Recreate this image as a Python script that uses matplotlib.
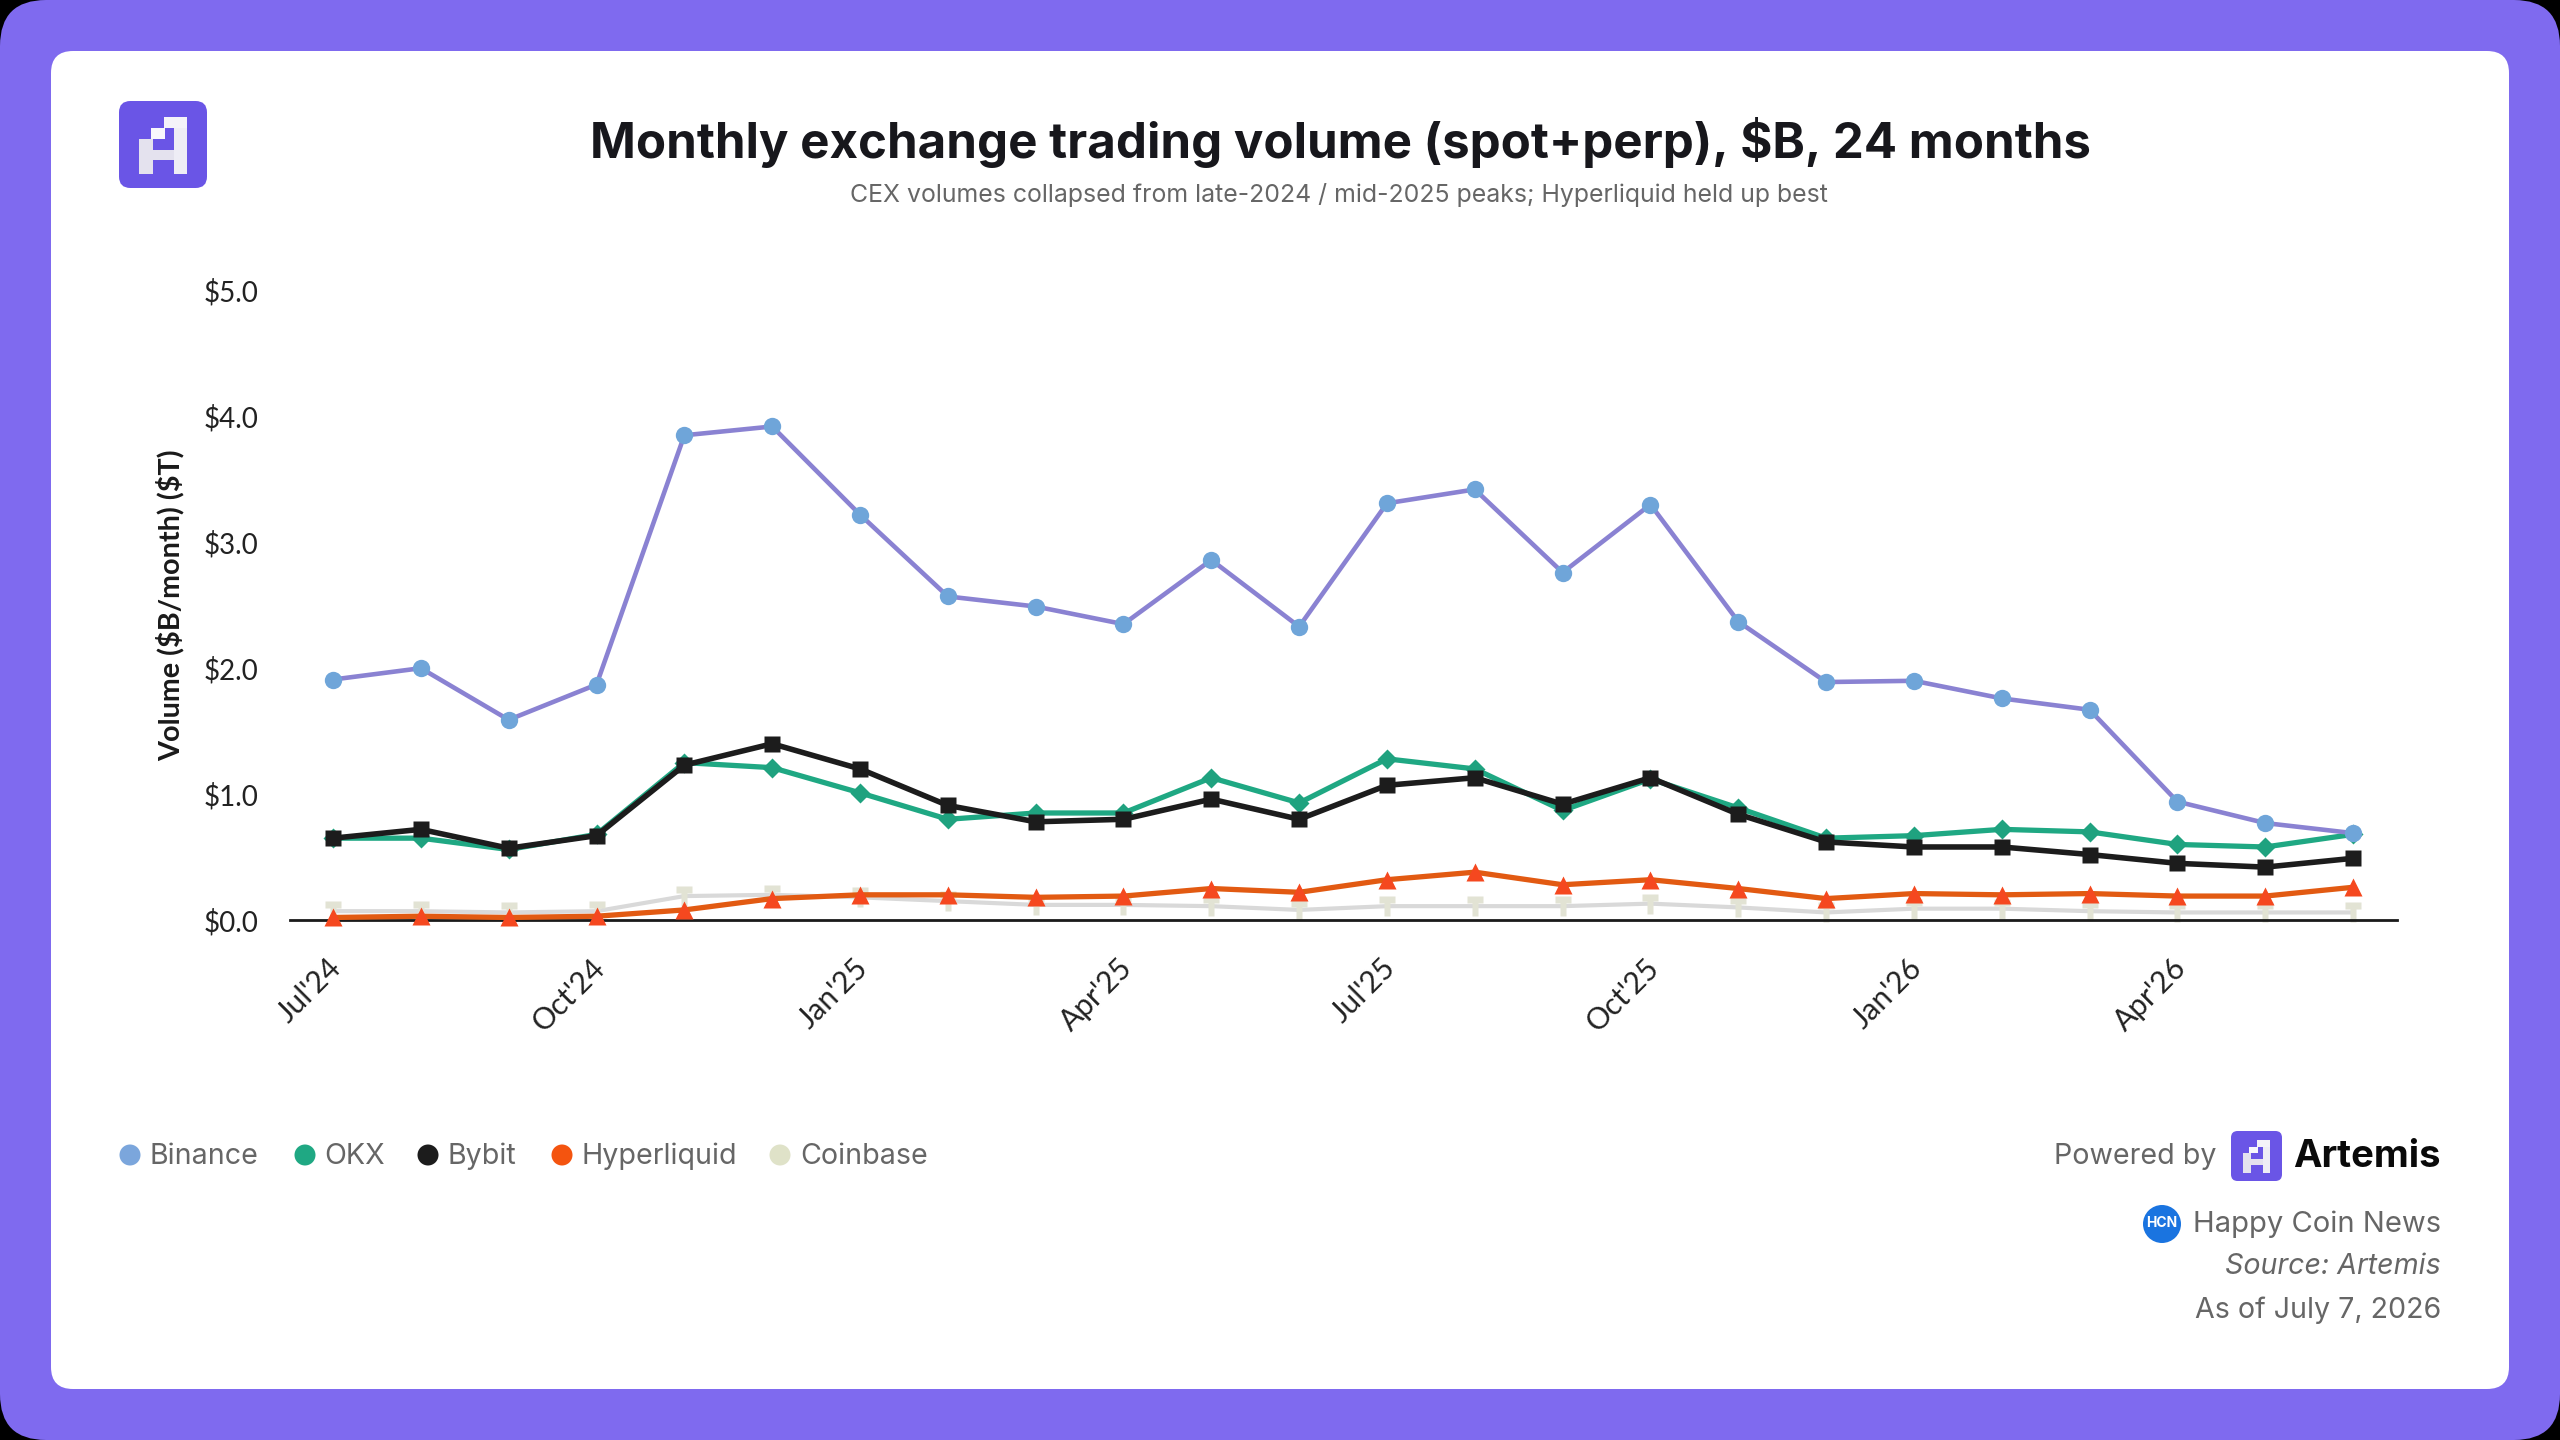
# monthly exchange volume card: five venues, 24 months

import matplotlib
matplotlib.use('Agg')
import matplotlib.pyplot as plt
from matplotlib.patches import FancyBboxPatch, Circle, Rectangle
from matplotlib.transforms import ScaledTranslation

months = ["Jul'24", "Aug'24", "Sep'24", "Oct'24", "Nov'24", "Dec'24",
          "Jan'25", "Feb'25", "Mar'25", "Apr'25", "May'25", "Jun'25",
          "Jul'25", "Aug'25", "Sep'25", "Oct'25", "Nov'25", "Dec'25",
          "Jan'26", "Feb'26", "Mar'26", "Apr'26", "May'26", "Jun'26"]

binance = [1.91, 2.00, 1.59, 1.87, 3.85, 3.92, 3.22, 2.57, 2.49, 2.35, 2.86, 2.33,
           3.31, 3.42, 2.76, 3.30, 2.37, 1.89, 1.90, 1.76, 1.67, 0.94, 0.77, 0.69]
okx = [0.65, 0.65, 0.56, 0.68, 1.25, 1.21, 1.01, 0.80, 0.85, 0.85, 1.13, 0.93,
       1.28, 1.20, 0.87, 1.12, 0.89, 0.65, 0.67, 0.72, 0.70, 0.60, 0.58, 0.68]
bybit = [0.65, 0.72, 0.57, 0.67, 1.23, 1.40, 1.20, 0.91, 0.78, 0.80, 0.96, 0.80,
         1.07, 1.13, 0.92, 1.13, 0.84, 0.62, 0.58, 0.58, 0.52, 0.45, 0.42, 0.49]
hyperliquid = [0.02, 0.03, 0.02, 0.03, 0.08, 0.17, 0.20, 0.20, 0.18, 0.19, 0.25, 0.22,
               0.32, 0.38, 0.28, 0.32, 0.25, 0.17, 0.21, 0.20, 0.21, 0.19, 0.19, 0.26]
coinbase = [0.07, 0.07, 0.06, 0.07, 0.19, 0.20, 0.18, 0.15, 0.12, 0.12, 0.11, 0.08,
            0.11, 0.11, 0.11, 0.13, 0.10, 0.06, 0.09, 0.09, 0.07, 0.06, 0.06, 0.06]

yticks = [0, 1, 2, 3, 4, 5]
ytick_labels = ['\\$0.0', '\\$1.0', '\\$2.0', '\\$3.0', '\\$4.0', '\\$5.0']

W, H = 2560, 1440
PURPLE = '#7f6aef'
GREY = '#666666'

fig = plt.figure(figsize=(W / 100, H / 100), dpi=100, facecolor='#000000')

# overlay in pixel units for the card, logos and footer
bg = fig.add_axes([0, 0, 1, 1], zorder=0)
bg.set_xlim(0, W)
bg.set_ylim(H, 0)
bg.axis('off')


def rbox(ax, x0, y0, x1, y1, r, color):
    p = FancyBboxPatch((x0 + r, y0 + r), x1 - x0 - 2 * r, y1 - y0 - 2 * r,
                       boxstyle='round,pad=%f,rounding_size=%f' % (r, r),
                       fc=color, ec='none')
    ax.add_patch(p)


def logo(ax, x0, y0, w, h):
    # pixel-art "A" on a rounded purple tile
    rbox(ax, x0, y0, x0 + w, y0 + h, w * 0.13, '#6a55e6')
    blocks = [(0.23, 0.44, 0.39, 0.84, '#e4e2ee'),
              (0.23, 0.56, 0.77, 0.675, '#e4e2ee'),
              (0.62, 0.18, 0.77, 0.84, '#eeedf5'),
              (0.51, 0.18, 0.77, 0.31, '#f4f3f9'),
              (0.36, 0.31, 0.52, 0.44, '#f8f8fc')]
    for a, b, c, d, col in blocks:
        ax.add_patch(Rectangle((x0 + a * w, y0 + b * h), (c - a) * w, (d - b) * h, fc=col, ec='none'))


rbox(bg, 0, 0, W, H, 46, PURPLE)
rbox(bg, 51, 51, 2509, 1389, 22, 'white')
logo(bg, 119, 101, 88, 87)

bg.text(1340, 143, 'Monthly exchange trading volume (spot+perp), \\$B, 24 months',
        ha='center', va='center', fontsize=35.4, fontweight='bold', family='Inter', color='#17171c')
bg.text(1339, 195, 'CEX volumes collapsed from late-2024 / mid-2025 peaks; Hyperliquid held up best',
        ha='center', va='center', fontsize=17.9, family='Inter', color=GREY)
bg.text(170, 605, 'Volume (\\$B/month) (\\$T)', rotation=90, ha='center', va='center',
        fontsize=20.7, fontweight='bold', family='Lato', color='#1a1a1a')

# legend
legend_names = ['Binance', 'OKX', 'Bybit', 'Hyperliquid', 'Coinbase']
legend_colors = ['#7ba6dc', '#1fa883', '#1c1c1c', '#f4540f', '#dfe2c8']
legend_dot_x = [130, 305, 428, 562, 780]
legend_text_x = [150, 324, 448, 582, 800]
for name, c, dx, tx in zip(legend_names, legend_colors, legend_dot_x, legend_text_x):
    bg.add_patch(Circle((dx, 1155), 10.5, fc=c, ec='none'))
    bg.text(tx, 1156, name, ha='left', va='center', fontsize=20.6, family='Inter', color=GREY)

# footer block
bg.text(2217, 1156, 'Powered by', ha='right', va='center', fontsize=20.6, family='Inter', color=GREY)
logo(bg, 2231, 1131, 51, 50)
bg.text(2441, 1157, 'Artemis', ha='right', va='center', fontsize=27.5, fontweight='bold',
        family='Inter', color='#0a0a0a')
bg.add_patch(Circle((2162, 1224), 19, fc='#1a74e0', ec='none'))
bg.text(2162, 1223, 'HCN', ha='center', va='center', fontsize=10, fontweight='bold',
        family='Inter', color='white')
bg.text(2441, 1224, 'Happy Coin News', ha='right', va='center', fontsize=21, family='Inter', color=GREY)
bg.text(2441, 1267, 'Source: Artemis', ha='right', va='center', fontsize=20.6, style='italic',
        family='Inter', color=GREY)
bg.text(2441, 1310, 'As of July 7, 2026', ha='right', va='center', fontsize=20.6, family='Inter', color=GREY)

# chart area
ax = fig.add_axes([290 / W, 1 - 920 / H, (2397 - 290) / W, (920 - 290.5) / H], zorder=1)
ax.patch.set_alpha(0)
x = list(range(len(months)))

# thin tall mark for the lowest series
tall = [(-0.3, -1), (0.3, -1), (0.3, 0.3), (0.75, 0.3), (0.75, 1), (-0.75, 1), (-0.75, 0.3), (-0.3, 0.3)]

ax.plot(x, coinbase, color='#d9d9d9', lw=3, marker=tall, ms=15, mfc='#e2e3d4', mec='none', zorder=2, clip_on=False)
ax.plot(x, hyperliquid, color='#e25a12', lw=3.8, marker='^', ms=13, mfc='#f5481f', mec='none', zorder=3, clip_on=False)
ax.plot(x, bybit, color='#1c1c1c', lw=4, marker='s', ms=12, mfc='#1c1c1c', mec='none', zorder=5, clip_on=False)
ax.plot(x, okx, color='#1fa883', lw=3.8, marker='D', ms=10, mfc='#1fa27f', mec='none', zorder=4, clip_on=False)
ax.plot(x, binance, color='#8a82d2', lw=3.3, marker='o', ms=12.5, mfc='#6fa5d9', mec='none', zorder=6, clip_on=False)

ax.set_xlim(-0.49, 23.5)
ax.set_ylim(0, 5)
ax.set_yticks(yticks)
ax.set_yticklabels(ytick_labels, family='Lato', fontsize=20, color='#222222')
ax.set_xticks(x[::3])
ax.set_xticklabels(months[::3], rotation=45, ha='right', rotation_mode='anchor',
                   family='Lato', fontsize=21.5, color='#222222')
ax.tick_params(axis='both', length=0)
ax.tick_params(axis='y', pad=23)
ax.tick_params(axis='x', pad=24)
# nudge the slanted month labels left of their ticks
shift = ScaledTranslation(-6 / 100, 0, fig.dpi_scale_trans)
for lab in ax.get_xticklabels():
    lab.set_transform(lab.get_transform() + shift)
for s in ['top', 'left', 'right']:
    ax.spines[s].set_visible(False)
ax.spines['bottom'].set_color('#1a1a1a')
ax.spines['bottom'].set_linewidth(2)

fig.savefig('out.png', dpi=100, facecolor=fig.get_facecolor())
